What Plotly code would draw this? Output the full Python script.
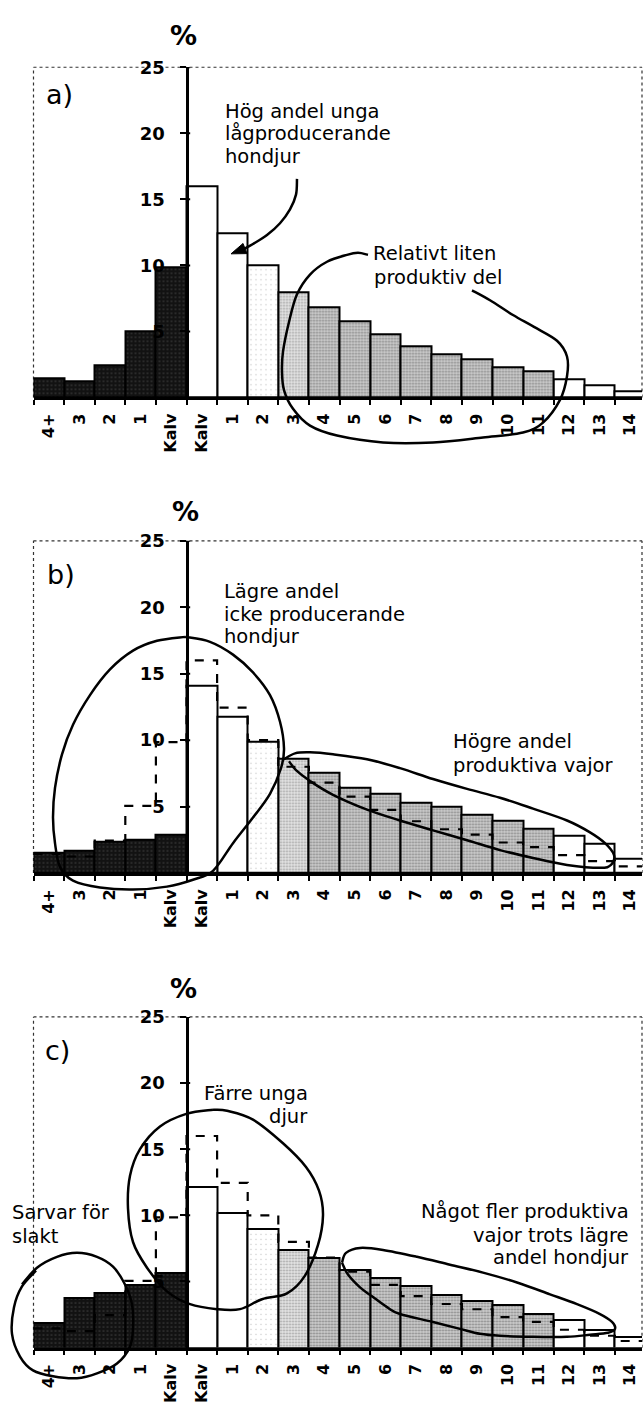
import plotly.graph_objects as go

W, H = 644, 1403

# ---------------------------------------------------------------- data
left_labels = ["4+", "3", "2", "1", "Kalv"]
right_labels = ["Kalv"] + [str(i) for i in range(1, 15)]

# a) reference herd, % of animals per age class (also drawn dashed in b and c)
a_left = [1.45, 1.25, 2.45, 5.05, 9.85]
a_right = [16.0, 12.45, 10.0, 8.0, 6.8, 5.75, 4.75, 3.9, 3.3, 2.9, 2.3, 1.95, 1.35, 0.9, 0.5]

# b) fewer non-producing females
b_left = [1.55, 1.7, 2.35, 2.5, 2.9]
b_right = [14.1, 11.75, 9.9, 8.6, 7.55, 6.4, 5.95, 5.3, 4.95, 4.35, 3.95, 3.35, 2.8, 2.2, 1.1]

# c) more males kept for slaughter, fewer young animals
c_left = [1.9, 3.75, 4.1, 4.75, 5.65]
c_right = [12.15, 10.2, 8.95, 7.4, 6.75, 5.85, 5.25, 4.65, 3.95, 3.55, 3.2, 2.55, 2.1, 1.35, 0.8]

y_ticks = [5, 10, 15, 20, 25]

# fill class of each age class on the female side
right_fill = ["white", "white", "faint", "light"] + ["gray"] * 8 + ["white"] * 3

# ---------------------------------------------------------------- styles
FONT = "DejaVu Sans"
FILLS = {
    "black": dict(color="#151515", pattern=dict(shape=".", bgcolor="#121212", fgcolor="#6a6a6a", size=4, solidity=0.15)),
    "white": dict(color="white", pattern=None),
    "faint": dict(color="white", pattern=dict(shape=".", bgcolor="#ffffff", fgcolor="#8a8a8a", size=5, solidity=0.05)),
    "light": dict(color="#dcdcdc", pattern=dict(shape=".", bgcolor="#e4e4e4", fgcolor="#5a5a5a", size=3, solidity=0.3)),
    "gray": dict(color="#b8b8b8", pattern=dict(shape=".", bgcolor="#cdcdcd", fgcolor="#3e3e3e", size=3, solidity=0.4)),
}

X_LEFT_PX, X_RIGHT_PX = 33.5, 642.0
UNIT_PX = 30.6
X_MIN = -5
X_MAX = X_MIN + (X_RIGHT_PX - X_LEFT_PX) / UNIT_PX
AXIS_PX = X_LEFT_PX + (0 - X_MIN) * UNIT_PX

# vertical extent of each panel (top = 25 %, bottom = 0 %), in pixels
PANELS = [
    dict(top=57.0, bottom=391.5),
    dict(top=536.7, bottom=873.3),
    dict(top=1019.0, bottom=1354.0),
]


def px(x, y):
    return x / W, 1 - y / H


def smooth_path(pts):
    """Catmull-Rom spline through pixel points, as an SVG path in paper units."""
    P = [px(*p) for p in pts]
    d = "M{:.5f},{:.5f}".format(*P[0])
    for i in range(len(P) - 1):
        p0 = P[i - 1] if i > 0 else P[i]
        p1, p2 = P[i], P[i + 1]
        p3 = P[i + 2] if i + 2 < len(P) else P[i + 1]
        c1 = (p1[0] + (p2[0] - p0[0]) / 6, p1[1] + (p2[1] - p0[1]) / 6)
        c2 = (p2[0] - (p3[0] - p1[0]) / 6, p2[1] - (p3[1] - p1[1]) / 6)
        d += " C{:.5f},{:.5f} {:.5f},{:.5f} {:.5f},{:.5f}".format(*c1, *c2, *p2)
    return d


def arrow_head(tail, tip, length=15, width=11):
    dx, dy = tip[0] - tail[0], tip[1] - tail[1]
    n = (dx * dx + dy * dy) ** 0.5
    ux, uy = dx / n, dy / n
    bx, by = tip[0] - ux * length, tip[1] - uy * length
    l = (bx - uy * width / 2, by + ux * width / 2)
    r = (bx + uy * width / 2, by - ux * width / 2)
    pts = [px(*tip), px(*l), px(*r)]
    return "M{:.5f},{:.5f} L{:.5f},{:.5f} L{:.5f},{:.5f} Z".format(*pts[0], *pts[1], *pts[2])


# hand-drawn loops and arrows (pixel positions on the page)
LOOPS = [
    # a) "Relativt liten produktiv del"
    [(368, 247), (358, 245), (347, 247), (327, 254), (310, 267), (297, 287), (289, 315),
     (283, 345), (282, 365), (284, 384), (293, 403), (310, 420), (337, 430), (383, 437),
     (433, 437), (483, 432), (523, 427), (543, 417), (560, 394), (567, 370), (567, 350),
     (557, 334), (534, 320), (513, 308), (490, 293), (472, 283)],
    # b) "Lägre andel icke producerande hondjur"
    [(185, 634), (157, 638), (133, 648), (110, 667), (90, 693), (73, 723), (62, 753),
     (55, 787), (53, 817), (55, 843), (60, 867), (73, 881), (100, 888), (133, 890),
     (167, 887), (193, 880), (213, 871), (233, 843), (253, 817), (270, 793), (281, 767),
     (284, 747), (280, 720), (270, 693), (253, 670), (233, 652), (210, 639), (185, 634)],
    # b) "Högre andel produktiva vajor"
    [(284, 758), (295, 752), (310, 751), (333, 753), (367, 758), (400, 767), (433, 778),
     (467, 788), (500, 797), (533, 808), (567, 820), (590, 832), (605, 843), (614, 855),
     (611, 865), (600, 868), (567, 865), (533, 858), (500, 850), (467, 840), (433, 830),
     (400, 820), (367, 809), (333, 794), (310, 780), (296, 769), (289, 760)],
    # c) "Sarvar för slakt"
    [(22, 1290), (37, 1273), (57, 1262), (77, 1258), (97, 1262), (113, 1272), (125, 1290),
     (132, 1310), (133, 1333), (130, 1353), (117, 1370), (97, 1380), (77, 1385), (53, 1383),
     (33, 1377), (20, 1363), (12, 1340), (14, 1313), (22, 1292), (36, 1276)],
    # c) "Färre unga djur"
    [(213, 1113), (187, 1117), (160, 1130), (140, 1153), (130, 1180), (128, 1213),
     (133, 1247), (147, 1273), (167, 1297), (190, 1310), (217, 1315), (240, 1315),
     (262, 1305), (287, 1299), (305, 1281), (318, 1250), (323, 1220), (319, 1195),
     (306, 1171), (283, 1147), (253, 1123), (227, 1114), (213, 1113)],
    # c) "Något fler produktiva vajor trots lägre andel hondjur"
    [(342, 1268), (346, 1258), (360, 1253), (383, 1255), (417, 1262), (450, 1270),
     (483, 1278), (517, 1288), (550, 1300), (577, 1310), (600, 1320), (612, 1328),
     (615, 1335), (608, 1339), (590, 1341), (567, 1343), (533, 1343), (500, 1342),
     (480, 1340), (460, 1335), (433, 1328), (400, 1320), (387, 1313), (372, 1302),
     (360, 1293), (348, 1280), (342, 1268)],
]
ARROW = [(297, 170), (296, 186), (290, 201), (280, 215), (267, 227), (253, 236), (244, 241)]
ARROW_TIP = (231, 246)

TEXTS = [
    # (text, x, centre y, anchor, size, bold)
    ("a)", 45, 85, "left", 27, False),
    ("Hög andel unga", 224, 101.5, "left", 19.5, False),
    ("lågproducerande", 224, 124.5, "left", 19.5, False),
    ("hondjur", 224, 147.5, "left", 19.5, False),
    ("Relativt liten", 372, 246, "left", 19.5, False),
    ("produktiv del", 373, 270, "left", 19.5, False),
    ("b)", 46, 571, "left", 27, False),
    ("Lägre andel", 223, 588, "left", 19.5, False),
    ("icke producerande", 223, 611, "left", 19.5, False),
    ("hondjur", 223, 634, "left", 19.5, False),
    ("Högre andel", 452, 740, "left", 19.5, False),
    ("produktiva vajor", 452, 764, "left", 19.5, False),
    ("c)", 44, 1053, "left", 27, False),
    ("Färre unga", 203, 1097, "left", 19.5, False),
    ("djur", 268, 1120, "left", 19.5, False),
    ("Sarvar för", 11, 1217, "left", 19.5, False),
    ("slakt", 11, 1241, "left", 19.5, False),
    ("Något fler produktiva", 630, 1216, "right", 19.5, False),
    ("vajor trots lägre", 630, 1240, "right", 19.5, False),
    ("andel hondjur", 630, 1263, "right", 19.5, False),
    ("%", 183, 25, "center", 27, True),
    ("%", 185, 507, "center", 27, True),
    ("%", 183, 990, "center", 27, True),
]

# ---------------------------------------------------------------- figure
fig = go.Figure()

panels = [
    (a_left, a_right, False),
    (b_left, b_right, True),
    (c_left, c_right, True),
]

left_x = [X_MIN + i + 0.5 for i in range(len(left_labels))]
right_x = [i + 0.5 for i in range(len(right_labels))]
edges = list(range(X_MIN, len(right_labels) + 1))

layout_axes = {}
shapes = []

for k, (lv, rv, dashed) in enumerate(panels):
    n = "" if k == 0 else str(k + 1)
    xa, ya = "x" + n, "y" + n

    def add_bars(xs, ys, cls):
        st = FILLS[cls]
        marker = dict(color=st["color"], line=dict(color="black", width=2))
        if st["pattern"] is not None:
            marker["pattern"] = st["pattern"]
        fig.add_trace(go.Bar(x=xs, y=ys, width=1, marker=marker,
                             xaxis=xa, yaxis=ya, hoverinfo="skip"))

    add_bars(left_x, lv, "black")
    for cls in ["white", "faint", "light", "gray"]:
        idx = [i for i, c in enumerate(right_fill) if c == cls]
        if idx:
            add_bars([right_x[i] for i in idx], [rv[i] for i in idx], cls)

    if dashed:
        ref = a_left + a_right
        fig.add_trace(go.Scatter(x=edges, y=ref + [ref[-1]], mode="lines",
                                 line=dict(color="black", width=2.2, dash="dash", shape="hv"),
                                 xaxis=xa, yaxis=ya, hoverinfo="skip"))

    p = PANELS[k]
    y_dom = [1 - p["bottom"] / H, 1 - p["top"] / H]
    layout_axes["xaxis" + n] = dict(
        domain=[X_LEFT_PX / W, X_RIGHT_PX / W], range=[X_MIN, X_MAX], anchor=ya,
        showline=True, linecolor="black", linewidth=2.5, showgrid=False, zeroline=False,
        tickmode="array", tickvals=left_x + right_x, ticktext=left_labels + right_labels,
        tickangle=-90, ticks="", ticklabelstandoff=7,
        tickfont=dict(family=FONT, size=16, color="black", weight="bold"),
        minor=dict(tickmode="array", tickvals=edges, ticks="outside", ticklen=5,
                   tickwidth=2, tickcolor="black"),
        fixedrange=True,
    )
    layout_axes["yaxis" + n] = dict(
        domain=y_dom, range=[0, 25], anchor="free", position=AXIS_PX / W,
        showline=True, linecolor="black", linewidth=3, showgrid=False, zeroline=False,
        tickmode="array", tickvals=y_ticks, ticks="outside", ticklen=6, tickwidth=2,
        tickcolor="black", ticklabelstandoff=11,
        tickfont=dict(family=FONT, size=18, color="black", weight="bold"),
        fixedrange=True,
    )

    # dotted chart frame (left, top, right); the x axis closes it at the bottom
    for (x0, y0, x1, y1) in [(0, 0, 0, 1), (0, 1, 1, 1), (1, 0, 1, 1)]:
        shapes.append(dict(type="line", xref=xa + " domain", yref=ya + " domain",
                           x0=x0, y0=y0, x1=x1, y1=y1, layer="below",
                           line=dict(color="#333333", width=1.2, dash="dot")))
    # tick marks crossing to the right of the value axis
    for v in y_ticks:
        shapes.append(dict(type="line", xref=xa, yref=ya, x0=0, x1=0.12, y0=v, y1=v,
                           line=dict(color="black", width=2)))

for pts in LOOPS:
    shapes.append(dict(type="path", xref="paper", yref="paper", path=smooth_path(pts),
                       line=dict(color="black", width=2.5)))
shapes.append(dict(type="path", xref="paper", yref="paper", path=smooth_path(ARROW),
                   line=dict(color="black", width=2.5)))
shapes.append(dict(type="path", xref="paper", yref="paper",
                   path=arrow_head(ARROW[-1], ARROW_TIP), fillcolor="black",
                   line=dict(color="black", width=1)))

annotations = []
for text, x, y, anchor, size, bold in TEXTS:
    xp, yp = px(x, y)
    annotations.append(dict(
        text=text, x=xp, y=yp, xref="paper", yref="paper", xanchor=anchor,
        yanchor="middle", showarrow=False, borderpad=0,
        font=dict(family=FONT, size=size, color="black", weight="bold" if bold else "normal"),
    ))

fig.update_layout(
    width=W, height=H, margin=dict(l=0, r=0, t=0, b=0),
    paper_bgcolor="white", plot_bgcolor="rgba(0,0,0,0)",
    barmode="overlay", bargap=0, showlegend=False,
    shapes=shapes, annotations=annotations,
    **layout_axes,
)

fig.write_html("out.html")
